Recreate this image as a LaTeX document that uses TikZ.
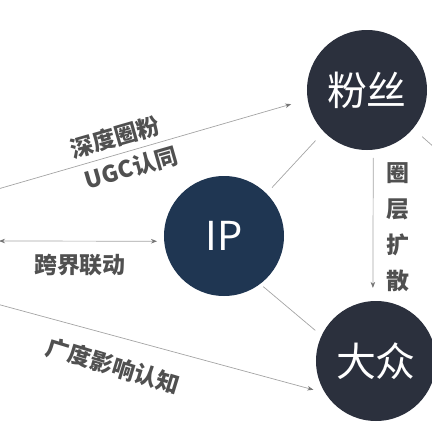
\documentclass[tikz,border=0pt]{standalone}
\usepackage{fontspec}
\newfontfamily\cjk{Noto Sans CJK SC}
\usetikzlibrary{calc,arrows.meta}
\definecolor{ipblue}{HTML}{1F3652}
\definecolor{darkslate}{HTML}{2B303D}
\definecolor{labelgray}{HTML}{505050}
\definecolor{linegray}{HTML}{A4A4A4}

\begin{document}
\begin{tikzpicture}[x=1bp,y=-1bp,font=\cjk]

\tikzset{bignode/.style={shape=circle,inner sep=0pt,minimum size=120bp,text=white,font=\cjk\fontsize{40}{40}\selectfont},
ipnode/.style={bignode,fill=ipblue},
slatenode/.style={bignode,fill=darkslate},
link/.style={linegray,line width=0.7bp},
arrow/.style={link,-{Stealth[length=6bp,width=4.5bp,color=black!55]}},
lbl/.style={text=labelgray,font=\cjk\bfseries\fontsize{23}{23}\selectfont,inner sep=0pt}}

\useasboundingbox (0,0) rectangle (432,432);
\clip (0,0) rectangle (432,432);

% Circles
\node[ipnode] (ip) at (224,236) {IP};
\node[slatenode] (fans) at (367,90) {粉丝};
\node[slatenode] (public) at (376,361) {大众};

% Ends outside the picture
\coordinate (offA) at (-40,200);
\coordinate (offB) at (-1,241);
\coordinate (offC) at (-40,294);
\coordinate (offD) at (460,170);

% Connectors
\draw[arrow] (offA) -- ([yshift=0bp]fans.189) [shorten >=17bp];
\draw[link,{Stealth[length=6bp,width=4.5bp,color=black!55]}-{Stealth[length=6bp,width=4.5bp,color=black!55]},shorten >=7bp] (offB) -- (ip.185);
\draw[arrow,shorten >=12bp] (offC) -- (public.212);
\draw[link,shorten <=8bp,shorten >=12bp] (ip.45) -- (fans.224);
\draw[link,shorten <=4bp,shorten >=8bp] (ip.-53) -- (public.155);
\draw[arrow,shorten <=8bp,shorten >=13bp] (fans.-84) -- (public.93);
\draw[link,shorten <=12bp] (fans.-40) -- (offD);

% Labels
\node[lbl,rotate=16] (deep) at (115,137) {深度圈粉};
\node[lbl,rotate=16] (ugc) at (131,168) {UGC认同};
\node[lbl] (cross) at (80,265) {跨界联动};
\node[lbl,rotate=-17] (broad) at (113,366) {广度影响认知};
\node[lbl,align=center,font=\cjk\bfseries\fontsize{23}{36}\selectfont] (spread) at (398,227) {圈\\层\\扩\\散};

\end{tikzpicture}
\end{document}
